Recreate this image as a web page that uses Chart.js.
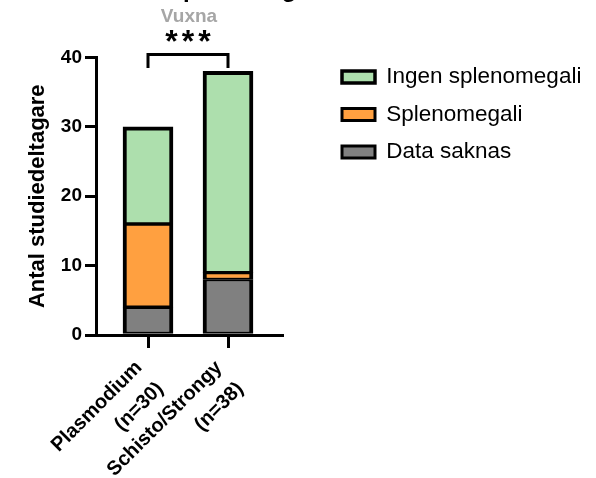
<!DOCTYPE html>
<html><head><meta charset="utf-8">
<script src="https://cdn.jsdelivr.net/npm/chart.js@4.4.1/dist/chart.umd.min.js"></script>
<style>
html,body{margin:0;padding:0;background:#fff;overflow:hidden;}
#wrap{position:relative;width:596px;height:478px;overflow:hidden;background:#fff;}
#c{position:absolute;left:0;top:-24px;}
</style></head><body>
<div id="wrap"><canvas id="c" width="596" height="502"></canvas></div>
<script>
// ---- data ----
const categories = ['Plasmodium', 'Schisto/Strongy'];
const categoryLabels = [['Plasmodium', '(n=30)'], ['Schisto/Strongy', '(n=38)']];
const dataSaknas = [4, 8];
const splenomegali = [12, 1];
const ingenSplenomegali = [14, 29];
const yTicks = [0, 10, 20, 30, 40];
const seriesNames = ['Data saknas', 'Splenomegali', 'Ingen splenomegali'];
const chartTitle = 'Förekomst av splenomegali';
const chartSubtitle = 'Vuxna';
const yAxisTitle = 'Antal studiedeltagare';
const significance = '***';

const FONT = 'Arial, "Liberation Sans", Helvetica, sans-serif';
const toPoints = arr => arr.map((v, i) => ({ x: i, y: v }));

const sigPlugin = {
  id: 'sig',
  afterDatasetsDraw(chart) {
    const { ctx, scales: { x, y } } = chart;
    const x0 = x.getPixelForValue(0), x1 = x.getPixelForValue(1);
    const yb = y.getPixelForValue(40.43), yl = y.getPixelForValue(38.5);
    ctx.save();
    ctx.strokeStyle = '#000'; ctx.lineWidth = 3; ctx.lineJoin = 'miter'; ctx.lineCap = 'butt';
    ctx.beginPath(); ctx.moveTo(x0, yl); ctx.lineTo(x0, yb); ctx.lineTo(x1, yb); ctx.lineTo(x1, yl); ctx.stroke();
    ctx.font = 'bold 32px ' + FONT;
    try { ctx.letterSpacing = '4px'; } catch (e) {}
    ctx.textAlign = 'center'; ctx.textBaseline = 'alphabetic'; ctx.fillStyle = '#000';
    ctx.fillText(significance, (x0 + x1) / 2 + 2, yb - 2.5);
    ctx.restore();
  }
};

const legendPlace = {
  id: 'legendPlace',
  afterLayout(chart) {
    const lg = chart.legend, ca = chart.chartArea;
    const dx = ca.right + 45 - lg.left;
    const dy = ca.top - 6.75 - lg.top;
    lg.left += dx; lg.top += dy; lg.bottom += dy;
    lg.right = chart.width;
  }
};

new Chart(document.getElementById('c'), {
  type: 'bar',
  data: {
    datasets: [
      { label: seriesNames[0], data: toPoints(dataSaknas), backgroundColor: '#808080',
        borderWidth: { top: 2, bottom: 2, left: 4, right: 4 } },
      { label: seriesNames[1], data: toPoints(splenomegali), backgroundColor: '#FFA040',
        borderWidth: { top: 2, bottom: 2, left: 4, right: 4 } },
      { label: seriesNames[2], data: toPoints(ingenSplenomegali), backgroundColor: '#ADDFAD',
        borderWidth: { top: 4, bottom: 2, left: 4, right: 4 } }
    ]
  },
  options: {
    responsive: false,
    animation: false,
    devicePixelRatio: 1,
    layout: { padding: { left: 7, right: 114, top: 0, bottom: 0 } },
    datasets: { bar: { barThickness: 50, borderColor: '#000', borderSkipped: false } },
    plugins: {
      tooltip: { enabled: false },
      title: { display: true, text: chartTitle, align: 'start', fullSize: true,
        font: { family: FONT, size: 24, weight: 'bold' }, color: '#000', padding: { top: 0, bottom: 0 } },
      subtitle: { display: true, text: chartSubtitle, align: 'center', fullSize: false,
        font: { family: FONT, size: 19, weight: 'bold' }, color: '#A6A6A6', padding: { top: 0.5, bottom: 29.4 } },
      legend: {
        position: 'right', align: 'start', fullSize: false, maxWidth: 200, reverse: true,
        labels: { font: { family: FONT, size: 22.5 }, color: '#000', boxWidth: 33, boxHeight: 12, padding: 15 }
      }
    },
    scales: {
      x: {
        type: 'linear', min: -0.65, max: 1.675, stacked: true, offset: false,
        grid: { display: true, offset: false, drawOnChartArea: false, drawTicks: true, tickLength: 13, color: '#000', lineWidth: 3 },
        border: { display: true, color: '#000', width: 3 },
        afterBuildTicks: s => { s.ticks = categories.map((_, i) => ({ value: i })); },
        afterFit: s => { s.height = 143; },
        ticks: { autoSkip: false, minRotation: 45, maxRotation: 45, padding: 6, labelOffset: -9, color: '#000',
          font: { family: FONT, size: 20, weight: 'bold', lineHeight: 1.5 },
          callback: v => categoryLabels[v] }
      },
      y: {
        min: 0, max: 40, stacked: true,
        grid: { display: true, drawOnChartArea: false, drawTicks: true, tickLength: 11, color: '#000', lineWidth: 3 },
        border: { display: true, color: '#000', width: 3 },
        afterBuildTicks: s => { s.ticks = yTicks.map(v => ({ value: v })); },
        afterFit: s => { s.width = 89; },
        ticks: { padding: 3, color: '#000', font: { family: FONT, size: 19, weight: 'bold' } },
        title: { display: true, text: yAxisTitle, color: '#000', padding: { top: 18, bottom: 0 },
          font: { family: FONT, size: 22, weight: 'bold' } }
      }
    }
  },
  plugins: [sigPlugin, legendPlace]
});
</script>
</body></html>
